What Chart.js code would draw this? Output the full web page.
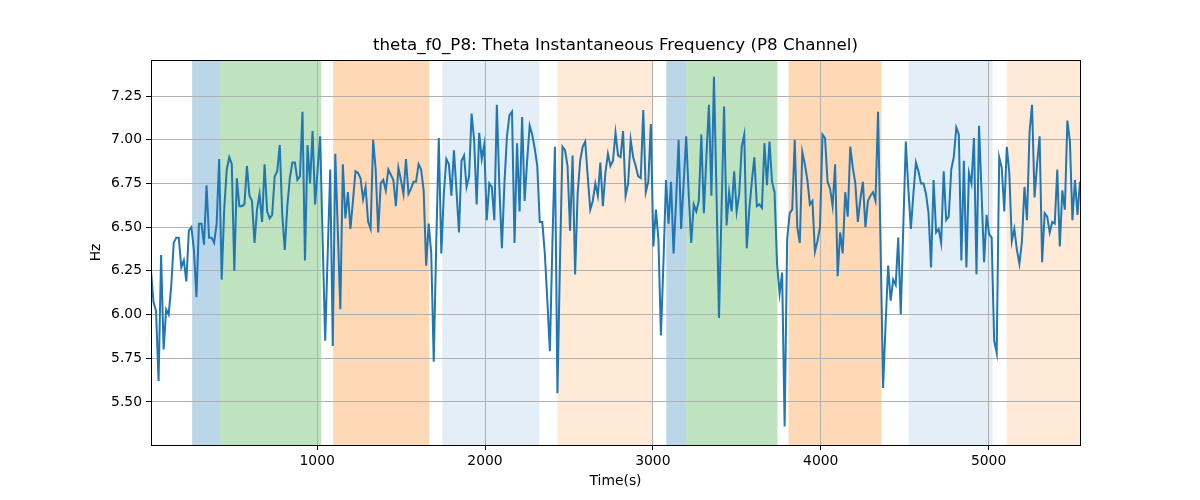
<!DOCTYPE html>
<html>
<head>
<meta charset="utf-8">
<script src="https://cdn.jsdelivr.net/npm/chart.js@4"></script>
<style>
  body { margin: 0; background: #fff; }
</style>
</head>
<body>
<canvas id="chart" width="1200" height="500"></canvas>
<script>
// theta frequency samples (Hz)
var hz = [
  6.25, 6.07, 6.02, 5.62, 6.34, 5.80, 6.03, 6.00, 6.16, 6.41, 6.44, 6.44, 6.27, 6.31, 6.19, 6.48, 6.50, 6.37, 6.10, 6.52, 6.52, 6.40, 6.74, 6.44, 6.44, 6.41, 6.52, 6.89, 6.20, 6.60, 6.83, 6.90, 6.86, 6.25, 6.78,
  6.62, 6.62, 6.63, 6.85, 6.68, 6.65, 6.41, 6.60, 6.69, 6.53, 6.86, 6.59, 6.55, 6.57, 6.79, 6.82, 6.97, 6.57, 6.37, 6.62, 6.78, 6.87, 6.87, 6.77, 6.79, 7.16, 6.31, 6.97, 6.75, 7.05, 6.63, 6.83, 7.02, 6.42, 5.85, 6.35, 6.83,
  5.82, 6.92, 6.48, 6.03, 6.86, 6.55, 6.70, 6.49, 6.65, 6.82, 6.81, 6.78, 6.66, 6.73, 6.53, 6.49, 7.00, 6.83, 6.47, 6.75, 6.77, 6.71, 6.83, 6.80, 6.77, 6.62, 6.84, 6.77, 6.69, 6.89, 6.69, 6.72, 6.76, 6.76, 6.86,
  6.83, 6.71, 6.28, 6.52, 6.35, 5.73, 6.41, 7.01, 6.35, 6.69, 6.89, 6.86, 6.68, 6.94, 6.71, 6.47, 6.88, 6.91, 6.73, 6.79, 7.15, 7.00, 6.63, 7.04, 6.89, 6.97, 6.54, 6.75, 6.73, 6.54, 7.20, 6.73, 6.38, 6.75, 7.02, 7.14,
  7.16, 6.41, 6.98, 6.59, 7.13, 6.65, 6.88, 7.08, 7.03, 6.95, 6.85, 6.53, 6.53, 6.35, 6.08, 5.79, 6.40, 6.96, 5.55, 6.30, 6.96, 6.94, 6.85, 6.48, 6.91, 6.23, 6.69, 6.88, 6.96, 6.99, 6.79, 6.60, 6.65, 6.75, 6.68, 6.87,
  6.62, 6.81, 6.92, 6.85, 6.88, 7.04, 6.91, 6.90, 7.05, 6.68, 6.75, 7.00, 6.90, 6.85, 6.79, 6.78, 7.17, 6.70, 6.76, 7.09, 6.39, 6.60, 6.43, 5.88, 6.30, 6.77, 6.52, 6.76, 6.35, 6.65, 7.00, 6.49, 6.75, 7.02, 6.69,
  6.41, 6.63, 6.59, 6.65, 7.03, 6.58, 6.90, 7.20, 6.68, 7.36, 6.70, 5.98, 6.60, 7.19, 6.51, 6.70, 6.59, 6.82, 6.59, 6.69, 6.96, 7.03, 6.38, 6.60, 6.76, 6.90, 6.62, 6.63, 6.61, 6.98, 6.74, 6.99, 6.76, 6.70, 6.29, 6.12,
  6.24, 5.36, 6.43, 6.58, 6.60, 7.00, 6.50, 6.41, 6.93, 6.86, 6.77, 6.63, 6.65, 6.36, 6.42, 6.50, 7.03, 7.01, 6.76, 6.72, 6.62, 6.86, 6.22, 6.47, 6.35, 6.70, 6.56, 6.96, 6.84, 6.75, 6.53, 6.66, 6.76, 6.50, 6.65,
  6.68, 6.70, 6.65, 7.16, 6.40, 5.58, 5.95, 6.28, 6.08, 6.20, 6.17, 6.44, 6.00, 6.50, 6.99, 6.72, 6.49, 6.69, 6.87, 6.82, 6.75, 6.75, 6.69, 6.58, 6.27, 6.77, 6.47, 6.49, 6.41, 6.82, 6.54, 6.56, 6.83, 6.90, 7.07, 7.03,
  6.31, 6.88, 6.27, 6.81, 6.75, 7.01, 6.23, 7.08, 6.70, 6.30, 6.57, 6.46, 6.44, 5.85, 5.78, 6.90, 6.84, 6.59, 6.96, 6.81, 6.42, 6.49, 6.37, 6.29, 6.42, 6.73, 6.54, 7.04, 7.20, 6.67, 6.86, 7.02, 6.30, 6.58, 6.56,
  6.47, 6.53, 6.52, 6.83, 6.39, 6.71, 6.60, 7.11, 6.99, 6.54, 6.77, 6.57, 6.76
];
// regular sampling: first sample time and step (s)
var tStart = 10;
var tStep = 15.04;

// shaded intervals (s)
var spanStart = [255, 422, 1095, 1745, 2431, 3080, 3200, 3808, 4523, 5107];
var spanEnd   = [422, 1024, 1668, 2323, 3003, 3200, 3742, 4362, 5024, 5560];

var xTicks = [1000, 2000, 3000, 4000, 5000];
var yTicks = [5.50, 5.75, 6.00, 6.25, 6.50, 6.75, 7.00, 7.25];

var titleText = 'theta_f0_P8: Theta Instantaneous Frequency (P8 Channel)';

// span colours (matplotlib tab colours with alpha)
var spanFill = [
  'rgba(31,119,180,0.3)', 'rgba(44,160,44,0.3)', 'rgba(255,127,14,0.3)',
  'rgba(31,119,180,0.12)', 'rgba(255,127,14,0.16)',
  'rgba(31,119,180,0.3)', 'rgba(44,160,44,0.3)', 'rgba(255,127,14,0.3)',
  'rgba(31,119,180,0.12)', 'rgba(255,127,14,0.16)'
];

var pts = hz.map(function (v, i) { return { x: tStart + i * tStep, y: v }; });
var xMax = pts[pts.length - 1].x;

var font = { family: 'DejaVu Sans', size: 13.9 };

// background + shaded spans under the grid, frame and title on top
var spans = {
  id: 'spans',
  beforeDraw: function (chart) {
    var c = chart.ctx, a = chart.chartArea, xs = chart.scales.x;
    c.save();
    c.fillStyle = '#fff';
    c.fillRect(0, 0, chart.width, chart.height);
    c.beginPath();
    c.rect(a.left, a.top, a.right - a.left, a.bottom - a.top);
    c.clip();
    for (var i = 0; i < spanStart.length; i++) {
      var x0 = xs.getPixelForValue(spanStart[i]);
      var x1 = xs.getPixelForValue(spanEnd[i]);
      c.fillStyle = spanFill[i];
      c.fillRect(x0, a.top, x1 - x0, a.bottom - a.top);
    }
    c.restore();
  },
  afterDraw: function (chart) {
    var c = chart.ctx, a = chart.chartArea;
    c.save();
    c.strokeStyle = '#000';
    c.lineWidth = 1;
    c.strokeRect(Math.round(a.left) + 0.5, Math.round(a.top) + 0.5,
      Math.round(a.right - a.left), Math.round(a.bottom - a.top));
    // title centred over the plot area, like matplotlib
    c.fillStyle = '#000';
    c.font = '16.7px "DejaVu Sans"';
    c.textAlign = 'center';
    c.textBaseline = 'middle';
    c.fillText(titleText, (a.left + a.right) / 2, 46);
    c.restore();
  }
};

new Chart(document.getElementById('chart'), {
  type: 'line',
  data: {
    datasets: [{
      data: pts,
      borderColor: '#1f77b4',
      borderWidth: 2,
      pointRadius: 0,
      tension: 0,
      fill: false
    }]
  },
  options: {
    responsive: false,
    animation: false,
    devicePixelRatio: 1,
    layout: { padding: { left: 0, right: 120, top: 60, bottom: 0 } },
    plugins: {
      legend: { display: false },
      tooltip: { enabled: false },
      title: { display: false }
    },
    scales: {
      x: {
        type: 'linear',
        min: tStart,
        max: xMax,
        afterBuildTicks: function (s) { s.ticks = xTicks.map(function (v) { return { value: v }; }); },
        afterFit: function (s) { s.height = 55; },
        grid: { color: '#b0b0b0', lineWidth: 1, drawTicks: true, tickLength: 5, tickColor: '#000' },
        border: { color: '#000', width: 1 },
        ticks: { color: '#000', font: font, padding: 3, maxRotation: 0, autoSkip: false,
          callback: function (v) { return String(v); } },
        title: { display: true, text: 'Time(s)', color: '#000', font: font, padding: { top: 0, bottom: 10.5 } }
      },
      y: {
        min: 5.254,
        max: 7.456,
        afterBuildTicks: function (s) { s.ticks = yTicks.map(function (v) { return { value: v }; }); },
        afterFit: function (s) { s.width = 151; },
        grid: { color: '#b0b0b0', lineWidth: 1, drawTicks: true, tickLength: 5, tickColor: '#000' },
        border: { color: '#000', width: 1 },
        ticks: { color: '#000', font: font, padding: 4, autoSkip: false,
          callback: function (v) { return v.toFixed(2); } },
        title: { display: true, text: 'Hz', color: '#000', font: font, padding: { top: 88.5, bottom: 0 } }
      }
    }
  },
  plugins: [spans]
});
</script>
</body>
</html>
